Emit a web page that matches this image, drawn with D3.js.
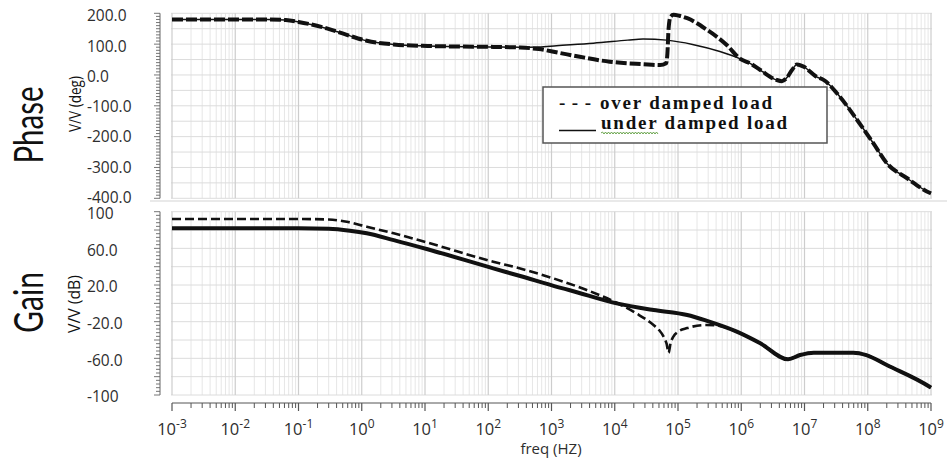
<!DOCTYPE html>
<html><head><meta charset="utf-8">
<script src="https://cdn.jsdelivr.net/npm/d3@7"></script>
<style>body{margin:0;background:#fff} svg{display:block}</style>
</head><body>
<svg id="c" width="947" height="463"></svg>
<script>
// ---------- data (frequency in Hz) ----------
const phaseOverF   = [1e-3,1e-2,3.2e-2,6.3e-2,0.1,0.28,0.58,1.2,3.2,11,120,320,630,1.3e3,2.8e3,8.3e3,2.8e4,5.2e4,6.5e4,6.8e4,7.1e4,7.6e4,8.5e4,1.05e5,1.4e5,2.8e5,5.9e5,9.5e5,1.4e6,2.0e6,3.6e6,4.4e6,5.2e6,6.3e6,7.6e6,9.5e6,1.55e7,2.0e7,3.6e7,6.8e7,1.23e8,2.0e8,4.2e8,9.5e8,1e9];
const phaseOverDeg = [180,180,180,178,172,151,130,111,99,94,91,89,84,72,59,43,35,32,38,70,150,188,195,192,184,148,97,53,37,16,-16,-20,-10,15,34,28,-6,-16,-70,-146,-222,-286,-335,-382,-384];
const phaseUnderF   = [1e-3,1e-2,3.2e-2,6.3e-2,0.1,0.28,0.58,1.2,3.2,11,120,320,630,1.2e3,4.6e3,1.6e4,2.8e4,6.6e4,1.7e5,4.6e5,9.5e5,1.4e6,2.0e6,3.6e6,4.4e6,5.2e6,6.3e6,7.6e6,9.5e6,1.55e7,2.0e7,3.6e7,6.8e7,1.23e8,2.0e8,4.2e8,9.5e8,1e9];
const phaseUnderDeg = [180,180,180,178,172,151,130,111,99,94,91,90,91,95,103,113,117,113,99,76,53,37,16,-16,-20,-10,15,34,28,-6,-16,-70,-146,-222,-286,-335,-382,-384];
const gainOverF  = [1e-3,0.1,0.3,0.58,1.2,3.2,11,120,320,1.1e3,3.6e3,1.07e4,2.2e4,4.1e4,5.0e4,6.0e4,6.6e4,7.1e4,7.6e4,8.5e4,1.0e5,1.4e5,2.8e5,4.6e5,8.5e5,2.0e6,5.5e6,8.5e6,1.4e7,5.9e7,9.5e7,2.0e8,9.5e8,1e9];
const gainOverDB = [92,92,91.5,89,83.6,76.4,66.2,45.4,38,27,14.6,0.7,-11,-23.6,-29,-37,-44,-54,-44,-36,-31,-27,-23.6,-24.7,-31,-43.6,-61,-56.4,-53.8,-53.8,-56.4,-67.3,-91,-92];
const gainUnderF  = [1e-3,0.1,0.3,0.65,1.2,3.2,11,120,320,1.3e3,1.95e3,1.07e4,4.1e4,1.4e5,2.8e5,8.5e5,2.0e6,5.5e6,8.5e6,1.4e7,5.9e7,9.5e7,2.0e8,9.5e8,1e9];
const gainUnderDB = [82,82,81.5,79.3,76.4,69,59,38.2,29.8,17.5,14.3,0,-7.3,-12.7,-18.9,-30.9,-43.6,-61,-56.4,-53.8,-53.8,-56.4,-67.3,-91,-92];
// tick labels
const phaseTickVals = [200,100,0,-100,-200,-300,-400];
const phaseTickLabels = ["200.0","100.0","0.0","-100.0","-200.0","-300.0","-400.0"];
const gainTickVals = [100,60,20,-20,-60,-100];
const gainTickLabels = ["100","60.0","20.0","-20.0","-60.0","-100"];
const decadeExps = [-3,-2,-1,0,1,2,3,4,5,6,7,8,9];
const legendItems = ["over damped load","under damped load"];

// ---------- scales ----------
const svg = d3.select("#c");
const x = d3.scaleLog().domain([1e-3,1e9]).range([172,931]);
const yP = d3.scaleLinear().domain([-400,200]).range([198.3,13.3]);
const yG = d3.scaleLinear().domain([-100,100]).range([395,211.7]);
const [x0,x1] = x.range();

// panel separator
svg.append("line").attr("x1",150).attr("x2",947).attr("y1",201).attr("y2",201)
  .attr("stroke","#d4d4d4").attr("stroke-width",1.2);

// minor frequency positions (grid)
const minorF = [];
decadeExps.slice(0,-1).forEach(e=>{ for(let m=2;m<=9;m++) minorF.push(m*Math.pow(10,e)); });
const majorF = decadeExps.map(e=>Math.pow(10,e));

function grid(y, hVals){
  const g = svg.append("g");
  g.selectAll(".mn").data(minorF).join("line")
    .attr("x1",d=>x(d)).attr("x2",d=>x(d)).attr("y1",y.range()[1]).attr("y2",y.range()[0])
    .attr("stroke","#e6e6e6").attr("stroke-width",1);
  g.selectAll(".hz").data(hVals).join("line")
    .attr("x1",x0-1).attr("x2",x1+1).attr("y1",d=>y(d)).attr("y2",d=>y(d))
    .attr("stroke","#dcdcdc").attr("stroke-width",1);
  g.selectAll(".mj").data(majorF).join("line")
    .attr("x1",d=>x(d)).attr("x2",d=>x(d)).attr("y1",y.range()[1]).attr("y2",y.range()[0])
    .attr("stroke","#cdcdcd").attr("stroke-width",1.2);
}
grid(yP, d3.range(-400,201,50));
grid(yG, d3.range(-100,101,20));

// y axes (left, dense ticks)
function yAxis(y, step, majorStep){
  const g = svg.append("g");
  const ax = 160;
  g.append("line").attr("x1",ax).attr("x2",ax).attr("y1",y.range()[1]).attr("y2",y.range()[0])
    .attr("stroke","#666").attr("stroke-width",1);
  const [lo,hi] = y.domain();
  g.selectAll("line.t").data(d3.range(lo,hi+0.001,step)).join("line")
    .attr("x1",d=> (Math.abs(d % majorStep) < 1e-6) ? ax-6 : ax-4).attr("x2",ax)
    .attr("y1",d=>y(d)).attr("y2",d=>y(d)).attr("stroke","#666").attr("stroke-width",0.9);
}
yAxis(yP,10,100);
yAxis(yG,4,20);

// y tick labels (left aligned)
const lblFont = "'Open Sans', sans-serif";
svg.append("g").selectAll("text").data(phaseTickVals).join("text")
  .attr("x",87).attr("y",d=>yP(d) + 2 - (200-d)/600*3.5).attr("dominant-baseline","central")
  .attr("font-family",lblFont).attr("font-size",15.5).attr("fill","#2e2e2e")
  .text((d,i)=>phaseTickLabels[i]);
svg.append("g").selectAll("text").data(gainTickVals).join("text")
  .attr("x",87).attr("y",d=>yG(d)+1.2).attr("dominant-baseline","central")
  .attr("font-family",lblFont).attr("font-size",15.5).attr("fill","#2e2e2e")
  .text((d,i)=>gainTickLabels[i]);

// x axis
const xa = svg.append("g");
const axY = 403;
xa.append("line").attr("x1",x0).attr("x2",x1).attr("y1",axY).attr("y2",axY).attr("stroke","#555").attr("stroke-width",1);
xa.selectAll("line.mn").data(minorF).join("line")
  .attr("x1",d=>x(d)).attr("x2",d=>x(d)).attr("y1",axY).attr("y2",axY+5).attr("stroke","#555").attr("stroke-width",1);
xa.selectAll("line.mj").data(majorF).join("line")
  .attr("x1",d=>x(d)).attr("x2",d=>x(d)).attr("y1",axY).attr("y2",axY+8).attr("stroke","#555").attr("stroke-width",1.2);
const xl = xa.selectAll("text").data(decadeExps).join("text")
  .attr("x",d=>x(Math.pow(10,d))).attr("y",435).attr("text-anchor","middle")
  .attr("font-family",lblFont).attr("font-size",16.5).attr("fill","#2e2e2e");
xl.append("tspan").text("10");
xl.append("tspan").attr("dy",-7).attr("font-size",12).text(d=>String(d));
svg.append("text").attr("x",551).attr("y",454).attr("text-anchor","middle")
  .attr("font-family",lblFont).attr("font-size",15).attr("fill","#2e2e2e").text("freq (HZ)");

// rotated labels
function rot(txt, bx, cy, size, len, fam){
  svg.append("text").attr("transform",`translate(${bx},${cy}) rotate(-90)`)
    .attr("text-anchor","middle").attr("font-family",fam).attr("font-size",size)
    .attr("textLength",len).attr("lengthAdjust","spacingAndGlyphs").attr("fill","#111").text(txt);
}
rot("Phase",43,125,41,77,"Lato, sans-serif");
rot("Gain",43,302.5,41,61,"Lato, sans-serif");
rot("V/V (deg)",81,104,15.5,56,lblFont);
rot("V/V (dB)",80,304,15.5,58,lblFont);

// curves
const line = d3.line().x(d=>x(d[0])).y(d=>d[1]).curve(d3.curveMonotoneX);
function draw(fs, vs, y, w, dash){
  svg.append("path").datum(fs.map((f,i)=>[f,y(vs[i])]))
    .attr("d",line).attr("fill","none").attr("stroke","#111").attr("stroke-width",w)
    .attr("stroke-linejoin","round").attr("stroke-dasharray",dash||null);
}
draw(phaseUnderF, phaseUnderDeg, yP, 1.5);
draw(phaseOverF, phaseOverDeg, yP, 4, "11,3");
draw(gainUnderF, gainUnderDB, yG, 4);
draw(gainOverF, gainOverDB, yG, 2.6, "9,4");

// legend
const lg = svg.append("g");
lg.append("rect").attr("x",543).attr("y",87).attr("width",284).attr("height",56)
  .attr("fill","#fff").attr("stroke","#555").attr("stroke-width",1.5);
const serif = "'Liberation Serif', 'Times New Roman', serif";
lg.append("text").attr("x",559).attr("y",109).attr("font-family",serif).attr("font-weight","bold")
  .attr("font-size",19).attr("textLength",32).attr("lengthAdjust","spacing").attr("fill","#111").text("- - -");
lg.append("text").attr("x",600).attr("y",109).attr("font-family",serif).attr("font-weight","bold")
  .attr("font-size",19).attr("textLength",172).attr("fill","#111").text(legendItems[0]);
lg.append("line").attr("x1",559).attr("x2",596).attr("y1",130.5).attr("y2",130.5).attr("stroke","#111").attr("stroke-width",1.5);
lg.append("text").attr("x",601).attr("y",129.3).attr("font-family",serif).attr("font-weight","bold")
  .attr("font-size",19).attr("textLength",186).attr("fill","#111").text(legendItems[1]);
// spell-check squiggle under "under"
let sq = "M601,133";
for(let px=602.5, up=true; px<=658; px+=1.5, up=!up) sq += ` L${px},${up?132:134}`;
lg.append("path").attr("d",sq).attr("fill","none").attr("stroke","#5c9c3c").attr("stroke-width",0.9);
</script>
</body></html>
